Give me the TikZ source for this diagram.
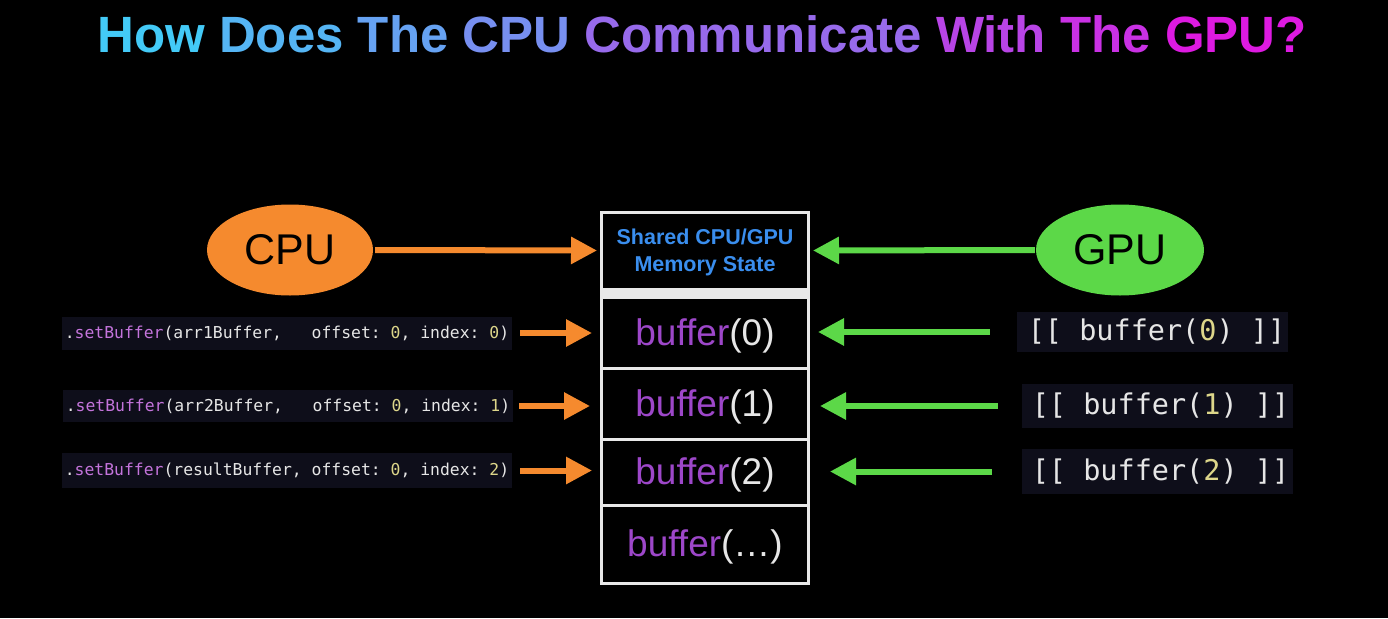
\documentclass[tikz,border=0pt]{standalone}
\usepackage{fontspec}
\setmainfont{Liberation Sans}
\setmonofont{DejaVu Sans Mono}
\usetikzlibrary{arrows.meta,shapes.geometric}
\definecolor{cpuorange}{HTML}{F58A2E}
\definecolor{gpugreen}{HTML}{5CD848}
\definecolor{bufpurple}{HTML}{9D47C9}
\definecolor{hdrblue}{HTML}{3A8EEE}
\definecolor{codebg}{HTML}{0E0E1A}
\definecolor{codepink}{HTML}{C474DC}
\definecolor{codeyel}{HTML}{DDD68A}
\definecolor{codewhite}{HTML}{E6E6E6}
\definecolor{cellborder}{HTML}{E8E8E8}
\definecolor{tA}{HTML}{3CD2F8}
\definecolor{tB}{HTML}{E412E0}
\newcommand{\setbuf}[2]{\textcolor{codewhite}{.}\textcolor{codepink}{setBuffer}\textcolor{codewhite}{(#1offset: }\textcolor{codeyel}{0}\textcolor{codewhite}{, index: }\textcolor{codeyel}{#2}\textcolor{codewhite}{)}}
\newcommand{\gbuf}[1]{\textcolor{codewhite}{[[ buffer(}\textcolor{codeyel}{#1}\textcolor{codewhite}{) ]]}}
\newcommand{\bufcell}[1]{\textcolor{bufpurple}{buffer}\textcolor{codewhite}{(#1)}}
\begin{document}
\begin{tikzpicture}[x=1pt,y=-1pt,
  cell/.style={draw=cellborder, line width=3pt, fill=black, minimum width=207pt, inner sep=0pt},
  celltext/.style={inner sep=0pt, font=\fontsize{37}{40}\selectfont},
  oarrow/.style={draw=cpuorange, line width=6pt, -{Triangle[length=26pt,width=26pt]}},
  garrow/.style={draw=gpugreen, line width=6pt, -{Triangle[length=26pt,width=26pt]}},
  proc/.style={ellipse, inner sep=0pt, text=black, font=\fontsize{43}{46}\selectfont},
  lcode/.style={fill=codebg, inner sep=0pt, minimum width=450pt, font=\fontsize{16.4}{18}\ttfamily},
  rcode/.style={fill=codebg, inner sep=0pt, minimum width=271pt, font=\fontsize{28.5}{30}\ttfamily}]
\fill[black] (0,0) rectangle (1388,618);
\useasboundingbox (0,0) rectangle (1388,618);
% title
\node[font=\bfseries\fontsize{51}{60}\selectfont] (title) at (702,34) {%
\textcolor{tB!4!tA}{How} \textcolor{tB!15!tA}{Does} \textcolor{tB!25!tA}{The} \textcolor{tB!35!tA}{CPU} \textcolor{tB!54!tA}{Communicate} \textcolor{tB!74!tA}{With} \textcolor{tB!84!tA}{The} \textcolor{tB!96!tA}{GPU?}};
% processors
\node[proc, fill=cpuorange, minimum width=166pt, minimum height=91pt] (cpu) at (290,250) {CPU};
\node[proc, fill=gpugreen, minimum width=168pt, minimum height=91pt] (gpu) at (1120,250) {GPU};
% memory table
\node[cell, minimum height=77pt] (hdr) at (705,250.5) {};
\node[align=center, inner sep=0pt, text=hdrblue, font=\bfseries\fontsize{21.5}{27}\selectfont] (hdrtext) at ([yshift=-2pt]hdr.center) {Shared CPU/GPU\\Memory State};
\fill[cellborder] (600,288) rectangle (810,298);
\node[cell, minimum height=71pt] (b0) at (705,332.5) {};
\node[cell, minimum height=71pt] (b1) at (705,403.5) {};
\node[cell, minimum height=66pt] (b2) at (705,472) {};
\node[cell, minimum height=78pt] (b3) at (705,544) {};
\node[celltext] (t0) at ([yshift=-3pt]b0.center) {\bufcell{0}};
\node[celltext] (t1) at ([yshift=-3pt]b1.center) {\bufcell{1}};
\node[celltext] (t2) at ([yshift=-3pt]b2.center) {\bufcell{2}};
\node[celltext] (t3) at ([yshift=-3pt]b3.center) {\bufcell{…}};
% CPU code
\node[lcode, minimum height=33pt] (c0) at (287,333) {\setbuf{arr1Buffer,\ \ \ }{0}};
\node[lcode, minimum height=32pt] (c1) at (288,406) {\setbuf{arr2Buffer,\ \ \ }{1}};
\node[lcode, minimum height=35pt] (c2) at (287,470.5) {\setbuf{resultBuffer,\ }{2}};
% GPU code
\node[rcode, minimum height=40pt] (g0) at (1152.5,332) {\hspace*{8pt}\gbuf{0}};
\node[rcode, minimum height=44pt] (g1) at (1157.5,406) {\hspace*{6pt}\gbuf{1}};
\node[rcode, minimum height=45pt] (g2) at (1157.5,471.5) {\hspace*{6pt}\gbuf{2}};
% arrows
\draw[oarrow, shorten <=2pt, shorten >=3pt] (cpu.east) -- (hdr.west);
\draw[garrow, shorten <=1pt, shorten >=3pt] (gpu.west) -- (hdr.east);
\draw[oarrow, shorten <=8pt, shorten >=8pt] (c0.east) -- (c0.east -| b0.west);
\draw[oarrow, shorten <=6pt, shorten >=10pt] (c1.east) -- (c1.east -| b1.west);
\draw[oarrow, shorten <=8pt, shorten >=8pt] (c2.east) -- (c2.east -| b2.west);
\draw[garrow, shorten <=27pt, shorten >=8pt] (g0.west) -- (g0.west -| b0.east);
\draw[garrow, shorten <=24pt, shorten >=10pt] (g1.west) -- (g1.west -| b1.east);
\draw[garrow, shorten <=30pt, shorten >=20pt] (g2.west) -- (g2.west -| b2.east);
\end{tikzpicture}
\end{document}
